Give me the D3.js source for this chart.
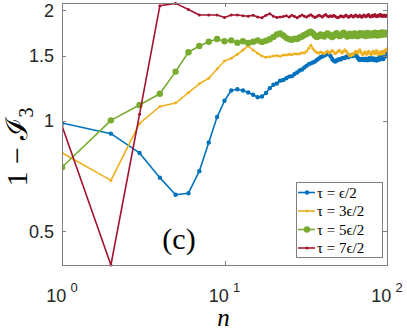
<!DOCTYPE html>
<head>
  <meta charset="utf-8">
  <title>1 - I3 vs n</title>
  <script src="https://cdn.jsdelivr.net/npm/d3@7"></script>
  <style>
    body { margin: 0; background: #fff; }
    .tick-label { font-family: "Liberation Sans", Arial, sans-serif; font-size: 18px; fill: #262626; }
    .tex { font-family: "Liberation Serif", "DejaVu Serif", serif; fill: #000; }
  </style>
</head>
<body>
<script>
// n = 1..100
var nValues = d3.range(1, 101);

var blueVals = [0.986, 0.922, 0.817, 0.700, 0.629, 0.635, 0.729, 0.873, 1.023, 1.133,
  1.208, 1.218, 1.208, 1.193, 1.176, 1.159, 1.164, 1.189, 1.226, 1.252,
  1.262, 1.285, 1.290, 1.305, 1.318, 1.322, 1.340, 1.352, 1.370, 1.378,
  1.395, 1.410, 1.425, 1.432, 1.440, 1.448, 1.462, 1.475, 1.488, 1.495,
  1.505, 1.512, 1.522, 1.518, 1.498, 1.472, 1.455, 1.448, 1.458, 1.465,
  1.470, 1.468, 1.478, 1.482, 1.480, 1.490, 1.495, 1.488, 1.500, 1.505,
  1.498, 1.510, 1.512, 1.505, 1.498, 1.485, 1.470, 1.462, 1.468, 1.472,
  1.465, 1.470, 1.462, 1.475, 1.468, 1.460, 1.472, 1.478, 1.465, 1.470,
  1.480, 1.468, 1.462, 1.475, 1.470, 1.458, 1.468, 1.462, 1.485, 1.478,
  1.470, 1.495, 1.488, 1.480, 1.472, 1.490, 1.505, 1.498, 1.518, 1.535];

var yellowVals = [0.818, 0.688, 0.983, 1.093, 1.117, 1.193, 1.260, 1.305, 1.383, 1.454,
  1.479, 1.516, 1.557, 1.597, 1.557, 1.526, 1.500, 1.488, 1.493, 1.500,
  1.505, 1.498, 1.510, 1.508, 1.515, 1.512, 1.520, 1.518, 1.522, 1.530,
  1.528, 1.545, 1.575, 1.605, 1.570, 1.548, 1.535, 1.525, 1.538, 1.530,
  1.520, 1.535, 1.545, 1.528, 1.540, 1.552, 1.538, 1.520, 1.530, 1.548,
  1.555, 1.540, 1.528, 1.545, 1.560, 1.548, 1.532, 1.515, 1.500, 1.505,
  1.520, 1.512, 1.530, 1.545, 1.538, 1.525, 1.548, 1.560, 1.540, 1.520,
  1.508, 1.525, 1.540, 1.530, 1.515, 1.528, 1.545, 1.535, 1.520, 1.512,
  1.530, 1.548, 1.535, 1.520, 1.538, 1.552, 1.530, 1.510, 1.525, 1.540,
  1.528, 1.515, 1.535, 1.548, 1.530, 1.520, 1.545, 1.560, 1.550, 1.570];

var greenVals = [0.747, 1.002, 1.103, 1.184, 1.360, 1.535, 1.596, 1.640, 1.668, 1.644,
  1.654, 1.630, 1.645, 1.628, 1.640, 1.652, 1.638, 1.650, 1.665, 1.690,
  1.715, 1.728, 1.705, 1.680, 1.665, 1.660, 1.672, 1.668, 1.685, 1.695,
  1.710, 1.722, 1.738, 1.745, 1.728, 1.705, 1.690, 1.698, 1.715, 1.708,
  1.695, 1.712, 1.728, 1.715, 1.700, 1.688, 1.702, 1.718, 1.730, 1.712,
  1.698, 1.705, 1.720, 1.735, 1.722, 1.708, 1.695, 1.710, 1.725, 1.712,
  1.700, 1.715, 1.728, 1.718, 1.705, 1.698, 1.712, 1.730, 1.722, 1.708,
  1.715, 1.728, 1.712, 1.700, 1.718, 1.732, 1.720, 1.705, 1.712, 1.725,
  1.718, 1.708, 1.722, 1.735, 1.725, 1.712, 1.705, 1.720, 1.730, 1.718,
  1.710, 1.725, 1.738, 1.728, 1.715, 1.722, 1.735, 1.728, 1.718, 1.730];

var redVals = [0.969, 0.405, 1.041, 2.054, 2.085, 2.007, 1.938, 1.938, 1.938, 1.909,
  1.938, 1.938, 1.930, 1.925, 1.935, 1.915, 1.905, 1.935, 1.955, 1.925,
  1.910, 1.915, 1.920, 1.930, 1.915, 1.935, 1.920, 1.905, 1.925, 1.940,
  1.925, 1.915, 1.930, 1.942, 1.925, 1.910, 1.920, 1.935, 1.928, 1.915,
  1.932, 1.945, 1.925, 1.918, 1.930, 1.920, 1.935, 1.925, 1.912, 1.905,
  1.918, 1.930, 1.922, 1.915, 1.928, 1.938, 1.925, 1.912, 1.920, 1.935,
  1.928, 1.915, 1.925, 1.940, 1.930, 1.918, 1.925, 1.935, 1.922, 1.912,
  1.928, 1.940, 1.930, 1.918, 1.925, 1.938, 1.945, 1.928, 1.915, 1.925,
  1.935, 1.922, 1.930, 1.945, 1.932, 1.918, 1.928, 1.940, 1.925, 1.935,
  1.948, 1.930, 1.920, 1.935, 1.925, 1.940, 1.930, 1.920, 1.935, 1.928];

var seriesNames = ["\u03c4 = \u03f5/2", "\u03c4 = 3\u03f5/2", "\u03c4 = 5\u03f5/2", "\u03c4 = 7\u03f5/2"];
var seriesColors = ["#0072BD", "#EDB120", "#77AC30", "#A2142F"];
var markerSizes = [2.2, 1.5, 3.2, 1.5];

var yTicks = [0.5, 1, 1.5, 2];
var yTickLabels = ["0.5", "1", "1.5", "2"];
var xTicks = [1, 10, 100];
var xTickExps = ["0", "1", "2"];

function drawChart() {
  var W = 407, H = 332;
  var mLeft = 62, mRight = 387, mTop = 3, mBottom = 265;

  var svg = d3.select("body").append("svg")
    .attr("width", W).attr("height", H);

  var x = d3.scaleLog().domain([1, 100]).range([mLeft, mRight]);
  var y = d3.scaleLog().domain([0.405, 2.09]).range([mBottom, mTop]);

  var allSeries = [blueVals, yellowVals, greenVals, redVals].map(function(vals, i) {
    return {
      name: seriesNames[i], color: seriesColors[i], r: markerSizes[i],
      pts: vals.map(function(v, j) { return { n: nValues[j], v: v }; })
    };
  });

  svg.append("clipPath").attr("id", "plotclip")
    .append("rect").attr("x", mLeft).attr("y", mTop - 2)
    .attr("width", mRight - mLeft + 1).attr("height", mBottom - mTop + 4);

  var plot = svg.append("g").attr("clip-path", "url(#plotclip)");

  var line = d3.line().x(function(d) { return x(d.n); }).y(function(d) { return y(d.v); });

  allSeries.forEach(function(s) {
    var g = plot.append("g");
    g.append("path").datum(s.pts)
      .attr("d", line)
      .attr("fill", "none")
      .attr("stroke", s.color)
      .attr("stroke-width", 1.6)
      .attr("stroke-linejoin", "round");
    g.selectAll("circle").data(s.pts).enter().append("circle")
      .attr("cx", function(d) { return x(d.n); })
      .attr("cy", function(d) { return y(d.v); })
      .attr("r", s.r)
      .attr("fill", s.color);
  });

  // axes box
  var axisColor = "#808080";
  svg.append("rect")
    .attr("x", mLeft + 0.5).attr("y", mTop + 0.5)
    .attr("width", mRight - mLeft).attr("height", mBottom - mTop)
    .attr("fill", "none").attr("stroke", axisColor).attr("stroke-width", 1);

  // y ticks (left and right), inward
  yTicks.forEach(function(t, i) {
    var yy = Math.round(y(t)) + 0.5;
    svg.append("line").attr("x1", mLeft).attr("x2", mLeft + 4).attr("y1", yy).attr("y2", yy)
      .attr("stroke", axisColor);
    svg.append("line").attr("x1", mRight).attr("x2", mRight - 4).attr("y1", yy).attr("y2", yy)
      .attr("stroke", axisColor);
    svg.append("text").attr("class", "tick-label")
      .attr("x", 54).attr("y", y(t) + 6.5)
      .attr("text-anchor", "end")
      .text(yTickLabels[i]);
  });

  // x ticks (bottom and top), inward
  xTicks.forEach(function(t, i) {
    var xx = Math.round(x(t)) + 0.5;
    svg.append("line").attr("x1", xx).attr("x2", xx).attr("y1", mBottom).attr("y2", mBottom - 4)
      .attr("stroke", axisColor);
    svg.append("line").attr("x1", xx).attr("x2", xx).attr("y1", mTop).attr("y2", mTop + 4)
      .attr("stroke", axisColor);
    var lbl = svg.append("text").attr("class", "tick-label")
      .attr("x", x(t)).attr("y", 302)
      .attr("text-anchor", "middle");
    lbl.append("tspan").text("10");
    lbl.append("tspan").attr("dx", 4).attr("dy", -10).attr("font-size", 13).text(xTickExps[i]);
  });

  // axis labels
  svg.append("text").attr("class", "tex")
    .attr("x", x(10) - 1).attr("y", 326)
    .attr("text-anchor", "middle")
    .attr("font-size", 25).attr("font-style", "italic")
    .text("n");

  var ylab = svg.append("text").attr("class", "tex")
    .attr("transform", "translate(27,147) rotate(-90)")
    .attr("text-anchor", "middle")
    .attr("font-size", 30);
  ylab.append("tspan").text("1 \u2212 ");
  ylab.append("tspan").attr("font-family", "DejaVu Serif").text("\u2110");
  ylab.append("tspan").attr("dy", 6).attr("font-size", 20).text("3");

  // panel label
  svg.append("text").attr("class", "tex")
    .attr("x", 179).attr("y", 249)
    .attr("text-anchor", "middle")
    .attr("font-size", 30)
    .text("(c)");

  // legend
  var lg = svg.append("g");
  lg.append("rect")
    .attr("x", 296.5).attr("y", 182.5).attr("width", 86).attr("height", 75)
    .attr("fill", "#fff").attr("stroke", "#808080");
  allSeries.forEach(function(s, i) {
    var ly = 192.5 + i * 18.5;
    lg.append("line").attr("x1", 298).attr("x2", 315).attr("y1", ly).attr("y2", ly)
      .attr("stroke", s.color).attr("stroke-width", 1.6);
    lg.append("circle").attr("cx", 307).attr("cy", ly).attr("r", s.r).attr("fill", s.color);
    lg.append("text").attr("class", "tex")
      .attr("x", 317).attr("y", ly + 5)
      .attr("font-size", 15)
      .text(s.name);
  });
}

drawChart();
</script>
</body>
